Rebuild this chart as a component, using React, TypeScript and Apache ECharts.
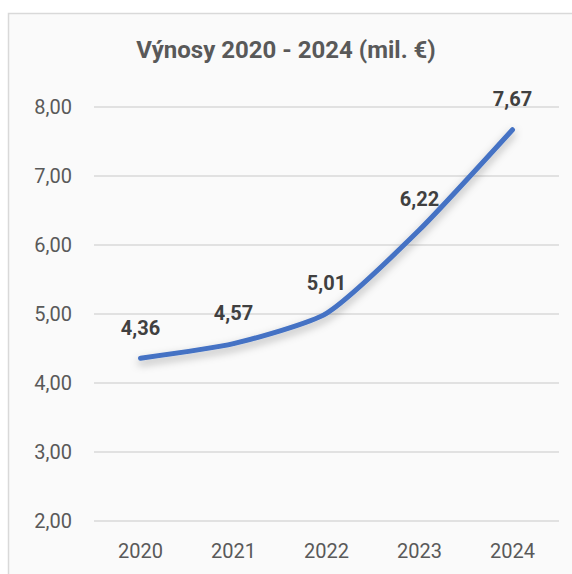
import React, { useEffect, useRef } from "react";
import * as echarts from "echarts";

const categories = ["2020", "2021", "2022", "2023", "2024"];
const values = [4.36, 4.57, 5.01, 6.22, 7.67];
const yTicks = { min: 2, max: 8, interval: 1 };
const titleText = "Výnosy 2020 - 2024 (mil. €)";

const FONT = "Roboto, 'Liberation Sans', sans-serif";
const fmt = (v: number) => v.toFixed(2).replace(".", ",");

export default function App() {
  const ref = useRef<HTMLDivElement>(null);
  useEffect(() => {
    if (!ref.current) return;
    const chart = echarts.init(ref.current, undefined, { renderer: "svg" });
    chart.setOption({
      animation: false,
      backgroundColor: "#ffffff",
      graphic: [
        {
          type: "rect",
          shape: { x: 8.5, y: 13.5, width: 600, height: 600 },
          style: { fill: "#fafafa", stroke: "#d9d9d9", lineWidth: 1.5 },
          z: -10,
          silent: true,
        },
      ],
      title: {
        text: titleText,
        left: "center",
        top: 33,
        textStyle: {
          fontFamily: FONT,
          fontSize: 24,
          fontWeight: "bold",
          color: "#595959",
        },
      },
      grid: { left: 94, right: 13, top: 107, bottom: 53 },
      xAxis: {
        type: "category",
        data: categories,
        boundaryGap: true,
        axisLine: { show: false },
        axisTick: { show: false },
        axisLabel: {
          margin: 20,
          fontFamily: FONT,
          fontSize: 20,
          color: "#595959",
        },
      },
      yAxis: {
        type: "value",
        min: yTicks.min,
        max: yTicks.max,
        interval: yTicks.interval,
        axisLine: { show: false },
        axisTick: { show: false },
        splitLine: { lineStyle: { color: "#d9d9d9", width: 1.5 } },
        axisLabel: {
          margin: 22,
          fontFamily: FONT,
          fontSize: 20,
          color: "#595959",
          formatter: (v: number) => fmt(v),
        },
      },
      series: [
        {
          type: "line",
          data: values,
          smooth: 0.2,
          symbol: "circle",
          symbolSize: 1,
          showSymbol: true,
          itemStyle: { color: "rgba(0,0,0,0)" },
          lineStyle: {
            color: "#4472c4",
            width: 5,
            cap: "round",
            shadowColor: "rgba(0,0,0,0.3)",
            shadowBlur: 8,
            shadowOffsetY: 4,
          },
          label: {
            show: true,
            position: "top",
            distance: 20,
            formatter: (p: any) => fmt(p.value),
            fontFamily: FONT,
            fontSize: 20,
            fontWeight: "bold",
            color: "#404040",
          },
        },
      ],
    });
    return () => chart.dispose();
  }, []);
  return (
    <div
      ref={ref}
      style={{ position: "absolute", left: 0, top: 0, width: 572, height: 574 }}
    />
  );
}
